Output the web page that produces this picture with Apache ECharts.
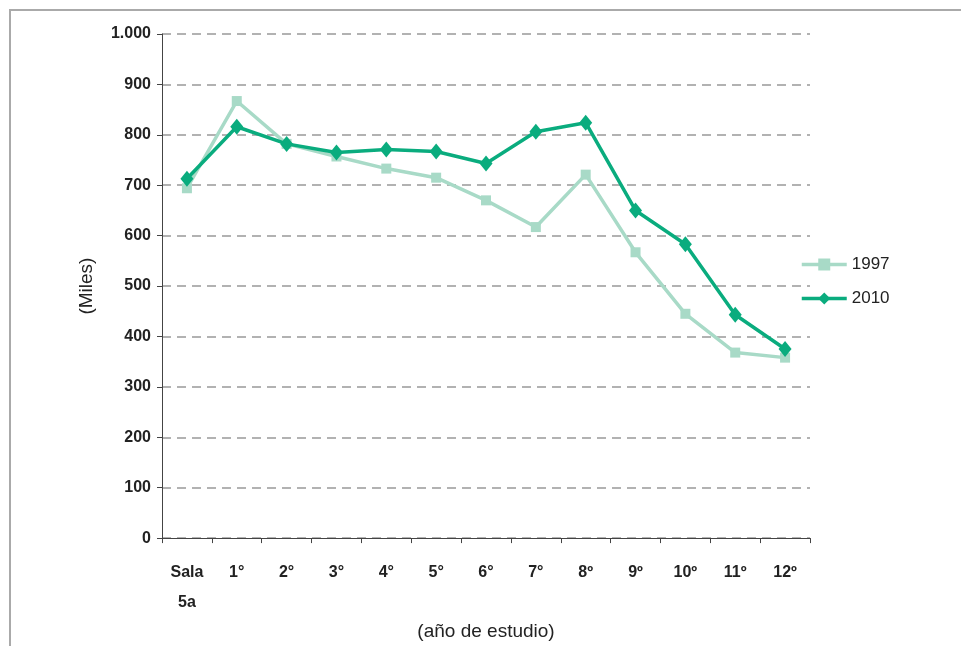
<!DOCTYPE html>
<html><head><meta charset="utf-8">
<script src="https://cdn.jsdelivr.net/npm/echarts@6/dist/echarts.min.js"></script>
<style>html,body{margin:0;padding:0;background:#fff;overflow:hidden}#c{width:961px;height:646px}</style>
</head><body><div id="c"></div>
<script>
const categories = ['Sala\n5a','1°','2°','3°','4°','5°','6°','7°','8º','9º','10º','11º','12º'];
const s1997 = [694, 867, 782, 757, 733, 715, 670, 617, 721, 567, 445, 368, 358];
const s2010 = [713, 816, 782, 765, 771, 767, 743, 806, 824, 650, 583, 443, 375];
const yTicks = [0,100,200,300,400,500,600,700,800,900,1000];
const c1 = '#a8dac7', c2 = '#0aac7e';
const chart = echarts.init(document.getElementById('c'));
const font = '"Liberation Sans", Arial, sans-serif';
chart.setOption({
  animation:false,
  graphic:[{type:'polyline',shape:{points:[[10,646],[10,10],[961,10]]},style:{stroke:'#aaaaaa',lineWidth:2,fill:null}}],
  grid:{left:162,top:34,width:648,height:507},
  legend:{orient:'vertical',left:795,top:251,itemGap:17,itemWidth:45,itemHeight:15,
    lineStyle:{width:3.5},
    textStyle:{fontFamily:font,fontSize:17,color:'#222'},
    data:['1997','2010']},
  xAxis:{type:'category',data:categories,boundaryGap:true,
    name:'(año de estudio)',nameLocation:'middle',nameGap:80,
    nameTextStyle:{fontFamily:font,fontSize:19,color:'#222'},
    axisLine:{lineStyle:{color:'#444',width:1}},
    axisTick:{show:true,length:5,lineStyle:{color:'#444'}},
    axisLabel:{margin:19,fontFamily:font,fontWeight:'bold',fontSize:16,color:'#222',lineHeight:30}},
  yAxis:{type:'value',min:0,max:1000,interval:100,
    name:'(Miles)',nameLocation:'middle',nameGap:66,
    nameTextStyle:{fontFamily:font,fontSize:19,color:'#222'},
    axisLine:{show:true,lineStyle:{color:'#444',width:1}},
    axisTick:{show:true,length:5,lineStyle:{color:'#444'}},
    axisLabel:{margin:11,fontFamily:font,fontWeight:'bold',fontSize:16,color:'#222',
      formatter:v=> yTicks.includes(v) ? (v===1000?'1.000':String(v)) : ''},
    splitLine:{show:true,lineStyle:{color:'#999',type:[9,6],width:1.5}}},
  series:[
    {name:'1997',type:'line',data:s1997,symbol:'rect',symbolSize:10,
      lineStyle:{color:c1,width:3.5},itemStyle:{color:c1},z:2},
    {name:'2010',type:'line',data:s2010,symbol:'diamond',symbolSize:[13,16],
      lineStyle:{color:c2,width:3.5},itemStyle:{color:c2},z:3}
  ]
});
</script></body></html>
